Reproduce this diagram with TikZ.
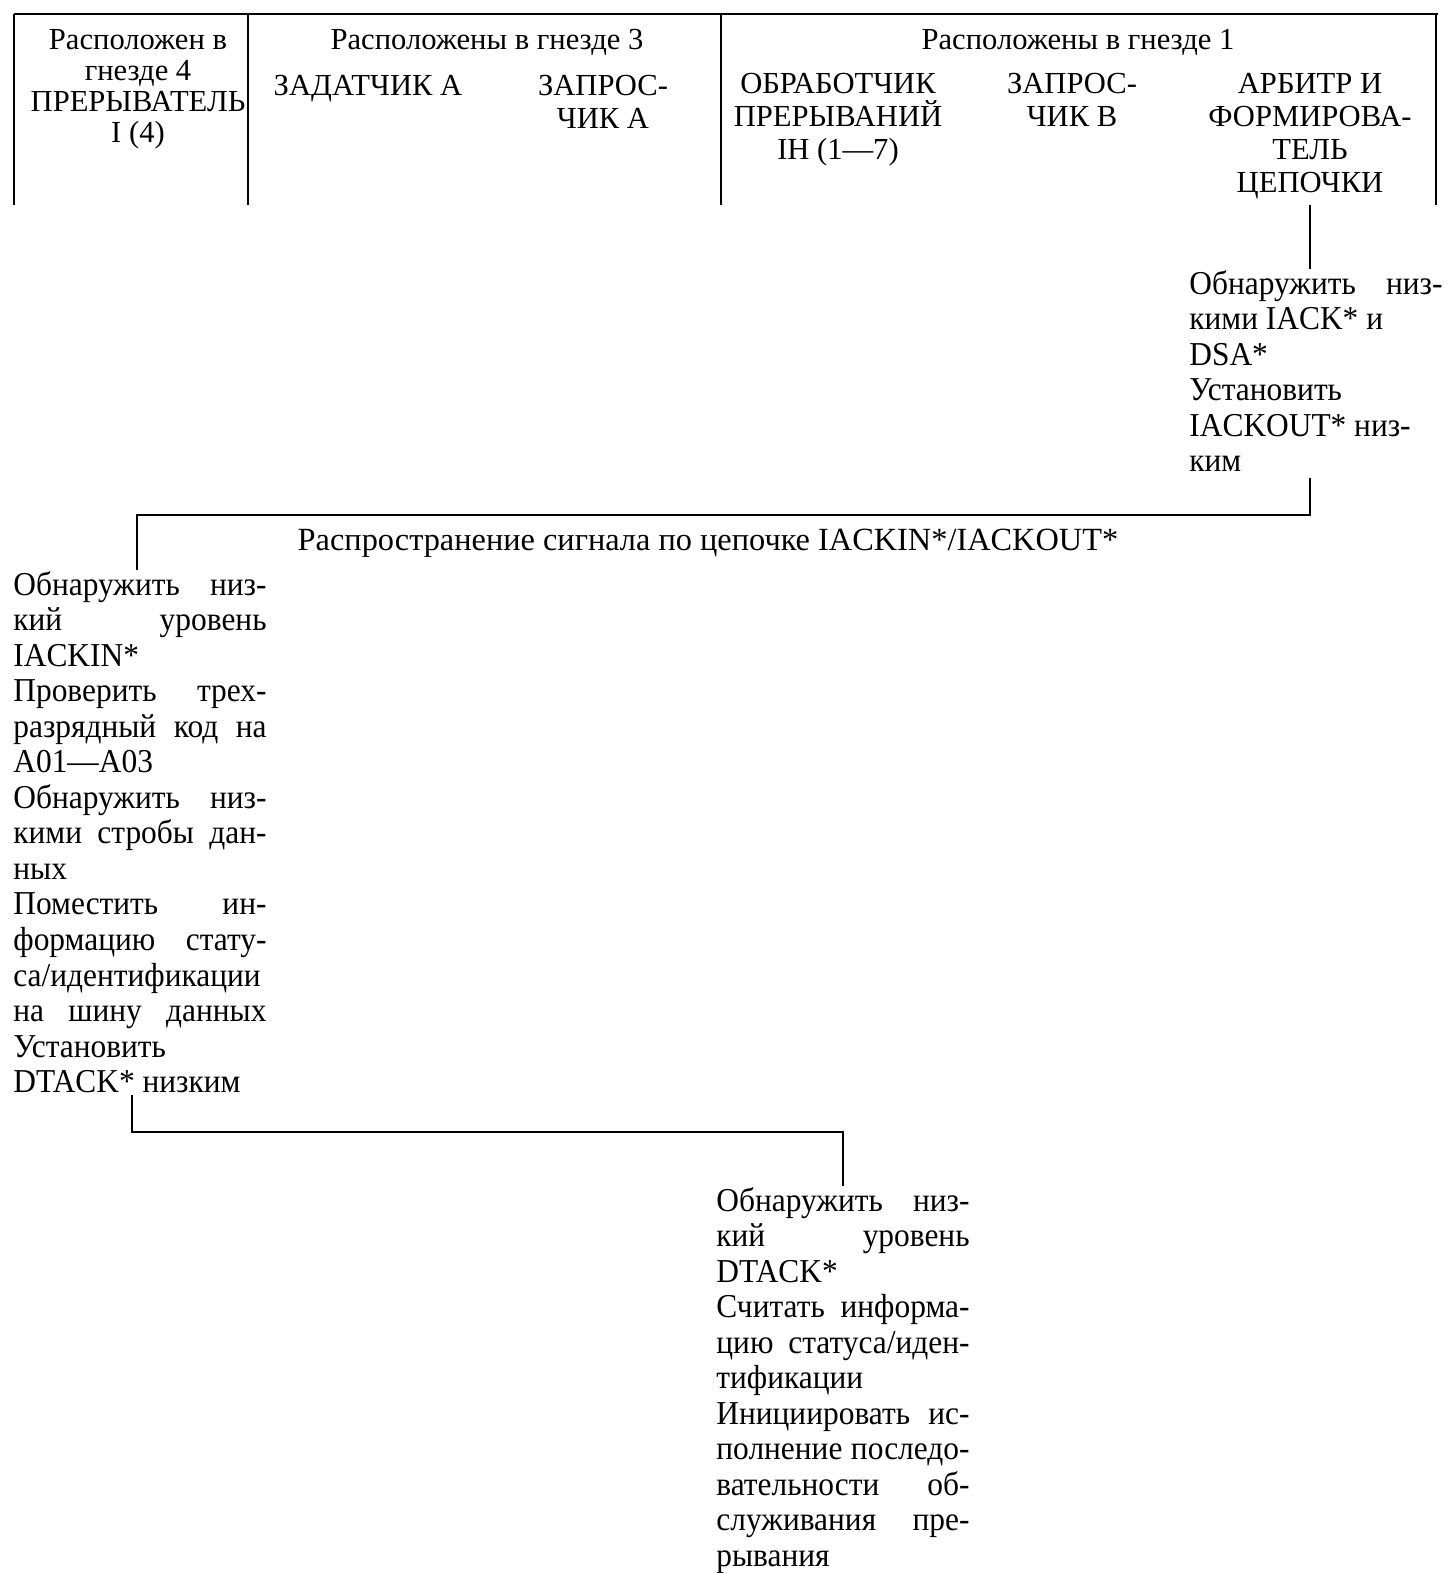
\documentclass[tikz,border=0pt]{standalone}
\usepackage{fontspec}
\setmainfont{Liberation Serif}
\newfontfamily\narrowserif{Liberation Serif}[FakeStretch=0.94]

\begin{document}
\begin{tikzpicture}[x=0.01cm, y=-0.01cm, line width=0.8pt,
  slot/.style={font=\fontsize{8.7}{8.8}\selectfont, align=center, inner sep=0pt, anchor=north},
  unit/.style={font=\fontsize{8.7}{9.4}\selectfont, align=center, inner sep=0pt, anchor=north},
  steps/.style={font=\narrowserif\fontsize{9.5}{10.1}\selectfont, text width=2.53cm, align=justify,
    inner sep=0pt, anchor=north west, execute at begin node={\tolerance=10000\hyphenpenalty=10000\exhyphenpenalty=10000}}]

\useasboundingbox (0,0) rectangle (1455,1573);

% header
\draw (14,14) -- (1438,14);
\foreach \x in {14,248,721,1436} \draw (\x,14) -- (\x,205);

\node[slot] (slotfour) at (138,28) {Расположен в\\гнезде 4\\ПРЕРЫВАТЕЛЬ\\I (4)};
\node[slot] (slotthree) at (487,28) {Расположены в гнезде 3};
\node[unit] (master) at (368,74) {ЗАДАТЧИК А};
\node[unit] (reqa) at (603,74) {ЗАПРОС-\\ЧИК А};
\node[slot] (slotone) at (1078,28) {Расположены в гнезде 1};
\node[unit] (handler) at (838,72) {ОБРАБОТЧИК\\ПРЕРЫВАНИЙ\\IН (1—7)};
\node[unit] (reqb) at (1072,72) {ЗАПРОС-\\ЧИК В};
\node[unit] (arb) at (1310,72) {АРБИТР И\\ФОРМИРОВА-\\ТЕЛЬ\\ЦЕПОЧКИ};

% steps
\node[steps] (det) at (1188,269) {Обнаружить низ-\linebreak кими IACK* и\\DSA*\\Установить\\IACKOUT* низ-\\ким};
\node[steps] (chk) at (12,570) {Обнаружить низ-\linebreak кий уровень\linebreak IACKIN*\\Проверить трех-\linebreak разрядный код на\linebreak A01—A03\\Обнаружить низ-\linebreak кими стробы дан-\linebreak ных\\Поместить ин-\linebreak формацию стату-\linebreak са/идентификации\linebreak на шину данных\linebreak Установить\\DTACK* низким};
\node[steps] (rd) at (715,1186) {Обнаружить низ-\linebreak кий уровень\linebreak DTACK*\\Считать информа-\linebreak цию статуса/иден-\linebreak тификации\\Инициировать ис-\linebreak полнение последо-\linebreak вательности об-\linebreak служивания пре-\linebreak рывания};

\coordinate (a1) at (1310,205);
\coordinate (d1) at (1310,478);
\coordinate (c1) at (1310,515);
\coordinate (c2) at (137,515);
\coordinate (d2) at (132,1095);
\coordinate (c3) at (132,1132);
\coordinate (c4) at (843,1132);

\draw (a1) -- (a1 |- det.north);
\draw (d1) -- (c1) -- (c2) -- (c2 |- chk.north);
\node[font=\fontsize{9.2}{10}\selectfont, inner sep=0pt] (chain) at (708,543) {Распространение сигнала по цепочке IACKIN*/IACKOUT*};
\draw (d2) -- (c3) -- (c4) -- (c4 |- rd.north);

\end{tikzpicture}
\end{document}
